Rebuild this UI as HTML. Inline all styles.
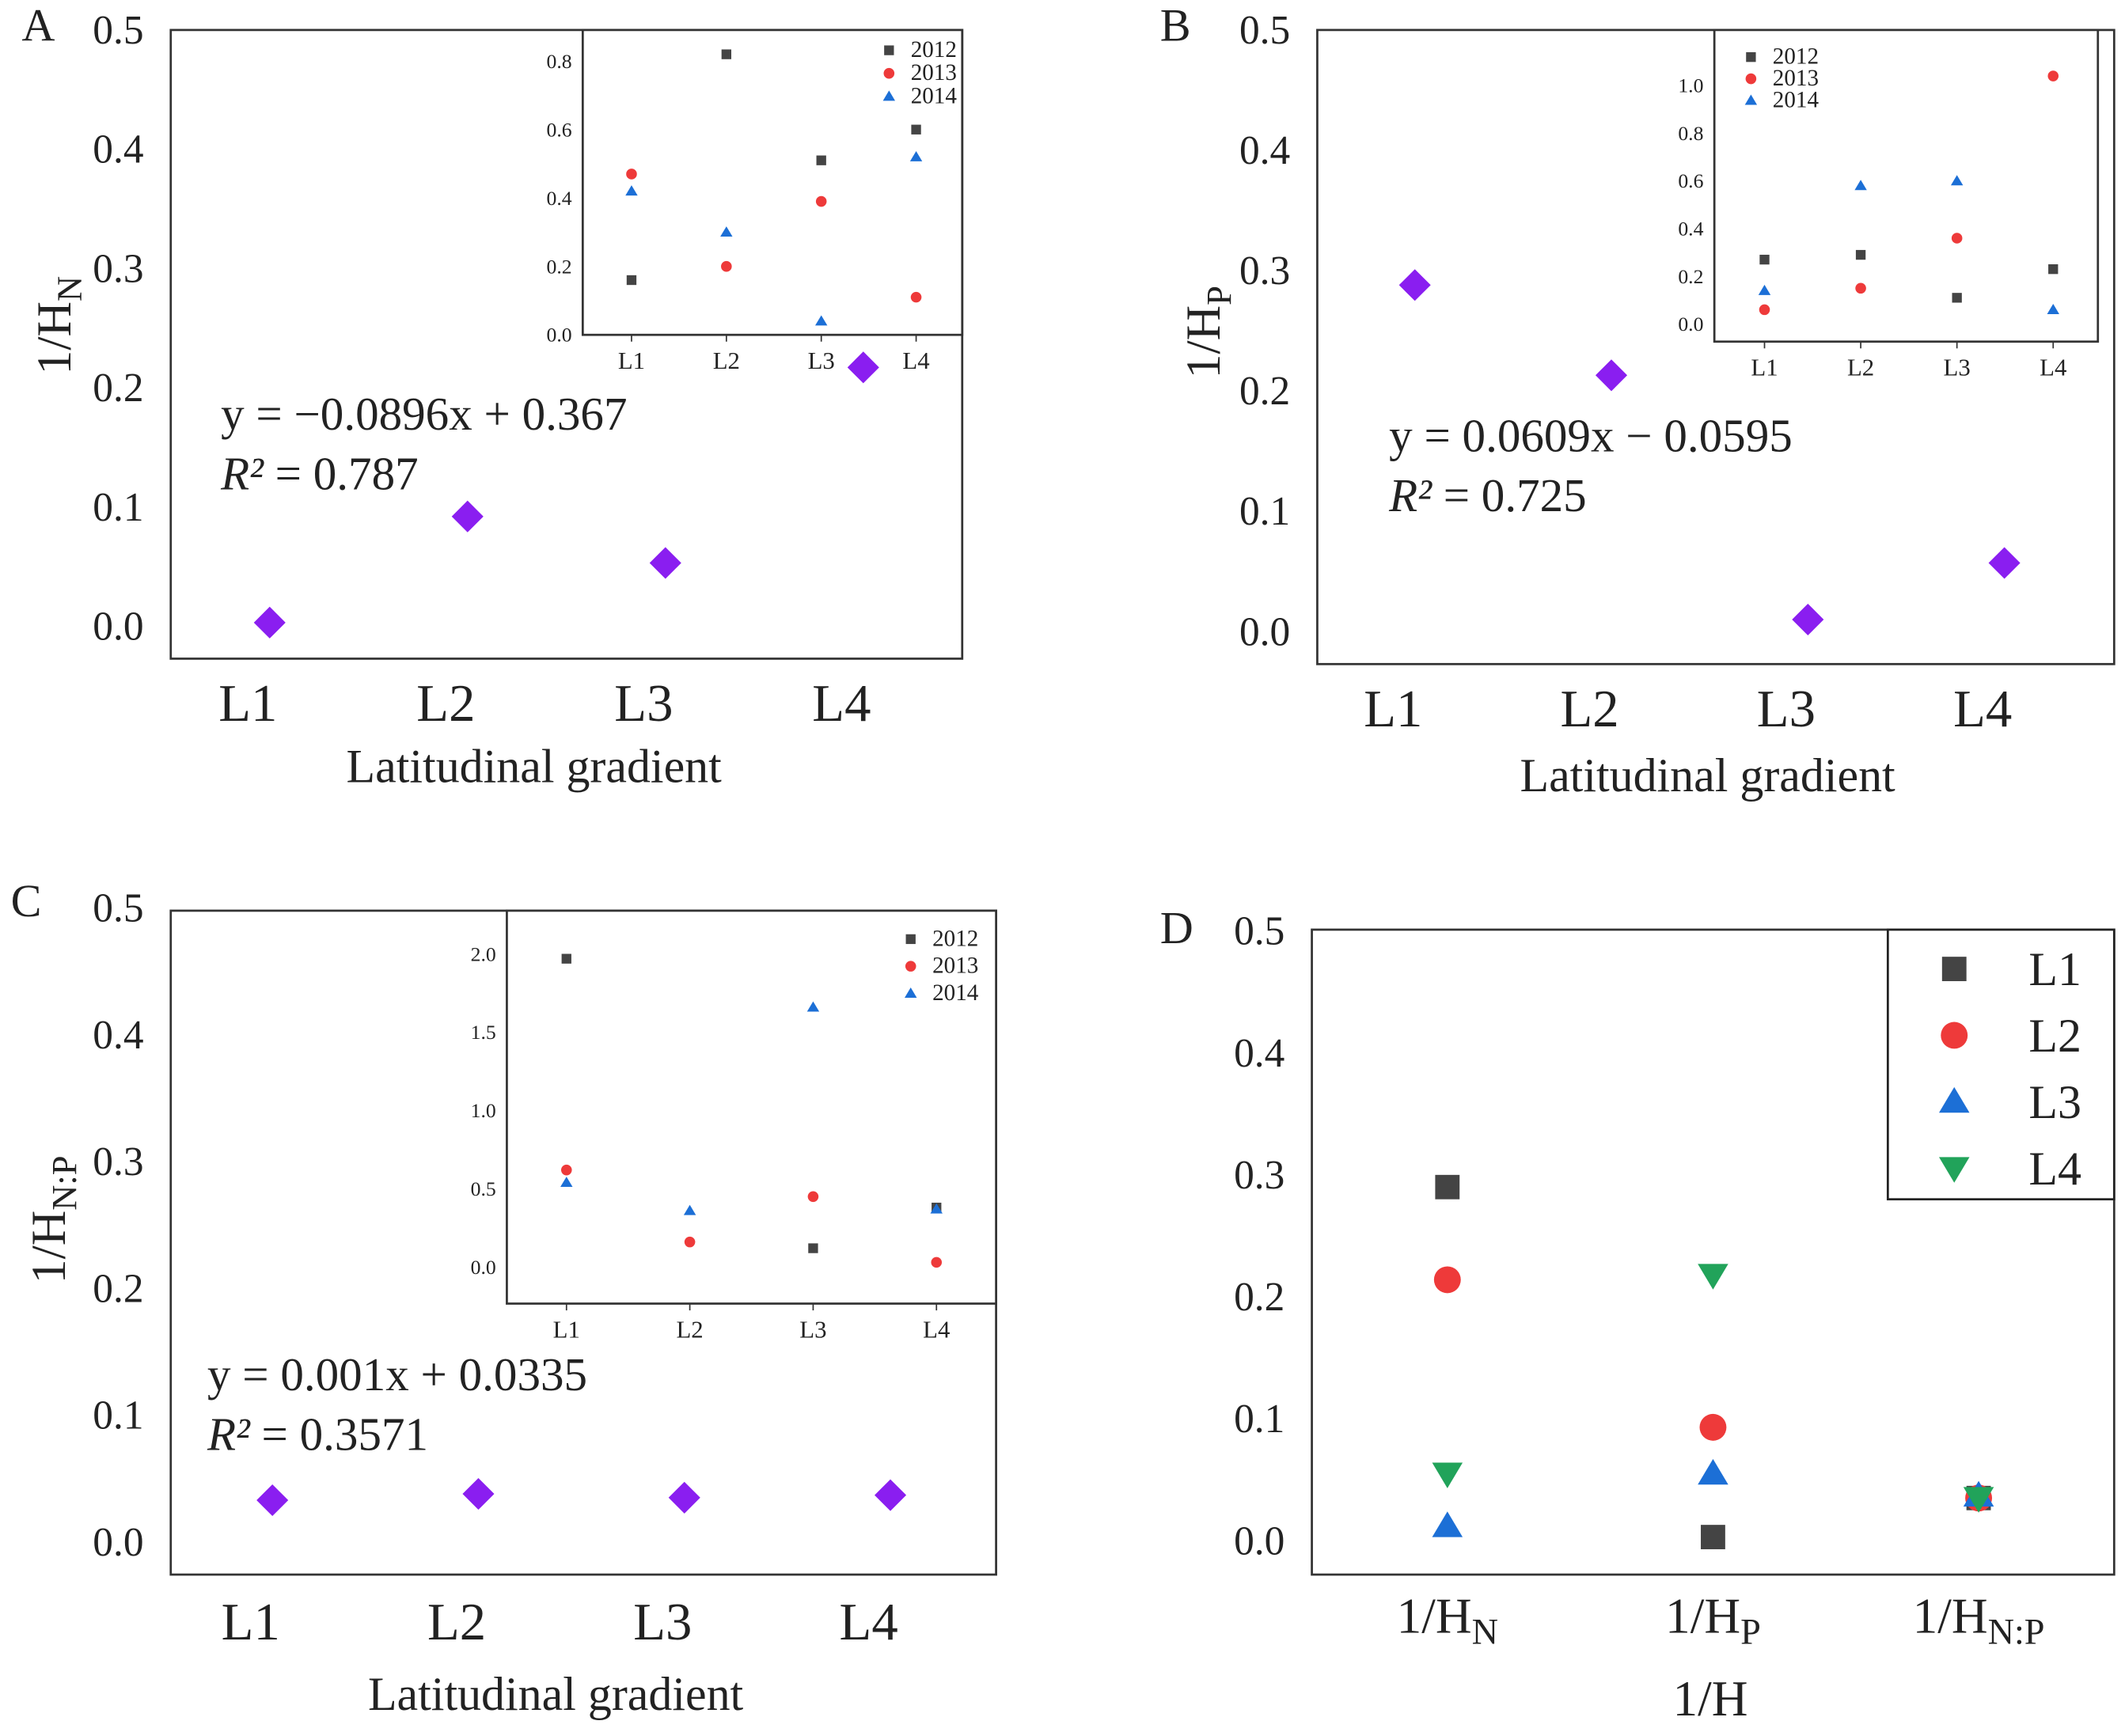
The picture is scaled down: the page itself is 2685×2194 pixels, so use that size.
<!DOCTYPE html>
<html><head><meta charset="utf-8"><style>
html,body{margin:0;padding:0;background:#fff}
svg{display:block}
text{font-family:"Liberation Serif",serif;fill:#222}
</style></head><body>
<svg id="fig" width="2685" height="2194" viewBox="0 0 1568 1281" xmlns="http://www.w3.org/2000/svg"></svg>
<script>
// ---- data ----
const cats = ["L1","L2","L3","L4"];
const yTicks = [0,0.1,0.2,0.3,0.4,0.5];
const years = ["2012","2013","2014"];
const mainA = [0.003,0.092,0.053,0.217];
const mainB = [0.288,0.213,0.010,0.057];
const mainC = [0.033,0.038,0.035,0.037];
const insetA2012 = [0.16,0.82,0.51,0.60];
const insetA2013 = [0.47,0.20,0.39,0.11];
const insetA2014 = [0.42,0.30,0.04,0.52];
const insetATicks = [0,0.2,0.4,0.6,0.8];
const insetB2012 = [0.27,0.29,0.11,0.23];
const insetB2013 = [0.06,0.15,0.36,1.04];
const insetB2014 = [0.14,0.58,0.60,0.06];
const insetBTicks = [0,0.2,0.4,0.6,0.8,1.0];
const insetC2012 = [1.97,null,0.12,0.38];
const insetC2013 = [0.62,0.16,0.45,0.03];
const insetC2014 = [0.54,0.36,1.66,0.37];
const insetCTicks = [0,0.5,1.0,1.5,2.0];
const dCats = ["N","P","N:P"];
const dL1 = [0.290,0.003,0.035];
const dL2 = [0.214,0.093,0.035];
const dL3 = [0.012,0.055,0.037];
const dL4 = [0.055,0.218,0.035];
const dLegend = ["L1","L2","L3","L4"];

const svg = document.getElementById('fig');
const NS = "http://www.w3.org/2000/svg";
function el(tag, attrs, parent){
  const e = document.createElementNS(NS, tag);
  for (const k in attrs) e.setAttribute(k, attrs[k]);
  (parent||svg).appendChild(e);
  return e;
}
function txt(s, x, y, size, anchor, parent){
  const t = el('text',{x:x,y:y,'font-size':size,'text-anchor':anchor||'start'},parent);
  t.textContent = s;
  return t;
}
const COL = {sq:'#444', ci:'#ee3a3a', tr:'#1c6fd6', tv:'#21a35a', dia:'#8a1ef0'};
function marker(kind, x, y, s, color){
  let m;
  if (kind==='sq') m = el('rect',{x:x-s,y:y-s,width:2*s,height:2*s,fill:color});
  else if (kind==='ci') m = el('circle',{cx:x,cy:y,r:s*1.1,fill:color});
  else if (kind==='tr') m = el('polygon',{points:`${x},${y-s*1.2} ${x-s*1.25},${y+s*0.9} ${x+s*1.25},${y+s*0.9}`,fill:color});
  else if (kind==='tv') m = el('polygon',{points:`${x},${y+s*1.2} ${x-s*1.25},${y-s*0.9} ${x+s*1.25},${y-s*0.9}`,fill:color});
  else m = el('polygon',{points:`${x},${y-s*1.3} ${x+s*1.3},${y} ${x},${y+s*1.3} ${x-s*1.3},${y}`,fill:color});
  return m;
}

function panel(o){
  const sy = v => o.y0 + (v-0)/(0.5)*(o.y5-o.y0);
  const sx = i => o.xs[0] + i*(o.xs[1]-o.xs[0]);
  const box = el('rect',{x:o.bx,y:o.by,width:o.bw,height:o.bh,fill:'none',stroke:'#333','stroke-width':1.6});
  
  
  yTicks.forEach(v=>{
    const t = txt(v.toFixed(1), o.bx-20, sy(v)+10, 30, 'end');
    
    
  });
  return {sy, sx};
}

function inset(o, ticks, tmax, s12, s13, s14, name){
  const sy = v => o.y0 - v/tmax*(o.y0-o.ytop);
  const sx = i => o.xs[0] + i*(o.xs[1]-o.xs[0]);
  const r = el('rect',{x:o.bx,y:o.by,width:o.bw,height:o.bh,fill:'#fff',stroke:'#333','stroke-width':1.6});
  
  
  ticks.forEach(v=>{
    const t = txt(v.toFixed(1), o.bx-8, sy(v)+5, 15, 'end');
    
    
  });
  cats.forEach((c,i)=>{
    el('line',{x1:sx(i),x2:sx(i),y1:o.by+o.bh,y2:o.by+o.bh+5,stroke:'#333'});
    const t = txt(c, sx(i), o.by+o.bh+25, 18, 'middle');
    
    
  });
  [[s12,'sq',COL.sq],[s13,'ci',COL.ci],[s14,'tr',COL.tr]].forEach(([arr,k,c],j)=>{
    arr.forEach((v,i)=>{
      if (v===null) return;
      const m = marker(k, sx(i), sy(v), 3.6, c);
      
      
    });
  });
  years.forEach((y,j)=>{
    const m = marker(['sq','ci','tr'][j], o.lx, o.ly+j*o.ld-5, 3.6, [COL.sq,COL.ci,COL.tr][j]);
    
    
    const t = txt(y, o.lx+16, o.ly+j*o.ld, 17, 'start');
    
    
  });
}

function mainPoints(sx, sy, arr, name){
  arr.forEach((v,i)=>{
    const m = marker('dia', sx(i), sy(v), 9, COL.dia);
    
    
  });
}
function xcats(sx, y, name, shift){
  cats.forEach((c,i)=>{
    const t = txt(c, sx(i)+shift, y, 39, 'middle');
    
    
  });
}
function eqn(x,y,s1,r2,name){
  const t = txt(s1, x, y, 34.5, 'start');
  
  
  const t2 = el('text',{x:x,y:y+44,'font-size':34.5});
  t2.innerHTML = '<tspan font-style="italic">R²</tspan> = '+r2;
  
  
}
function ylab(x,y,main,sub,name){
  const t = el('text',{x:0,y:0,'font-size':36,transform:`translate(${x},${y}) rotate(-90)`,'text-anchor':'middle'});
  t.innerHTML = main+'<tspan font-size="26" dy="8">'+sub+'</tspan>';
  
  
}
function plabel(s,x,y){
  const t = txt(s,x,y,34,'start');
  
  
}
function xtitle(s,x,y,name){
  const t=txt(s,x,y,35,'middle');
  
  
}

// ---- Panel A ----
plabel('A',16,30);
let A = panel({name:'panel-a',bx:126,by:22,bw:584,bh:464,y0:462,y5:22,xs:[199,345]});
inset({bx:430,by:22,bw:280,bh:225,y0:247,ytop:45,xs:[466,536],lx:656,ly:42,ld:17},insetATicks,0.8,insetA2012,insetA2013,insetA2014,'panel-a');
mainPoints(A.sx,A.sy,mainA,'panel-a');
xcats(A.sx,532,'panel-a',-16);
eqn(163,317,'y = −0.0896x + 0.367','0.787','panel-a');
ylab(52,240,'1/H','N','panel-a');
xtitle('Latitudinal gradient',394,577,'panel-a');

// ---- Panel B ----
plabel('B',856,30);
let B = panel({name:'panel-b',bx:972,by:22,bw:588,bh:468,y0:466,y5:22,xs:[1044,1189]});
inset({bx:1265,by:22,bw:283,bh:230,y0:239,ytop:63,xs:[1302,1373],lx:1292,ly:47,ld:16},insetBTicks,1.0,insetB2012,insetB2013,insetB2014,'panel-b');
mainPoints(B.sx,B.sy,mainB,'panel-b');
xcats(B.sx,536,'panel-b',-16);
eqn(1025,333,'y = 0.0609x − 0.0595','0.725','panel-b');
ylab(900,245,'1/H','P','panel-b');
xtitle('Latitudinal gradient',1260,584,'panel-b');

// ---- Panel C ----
plabel('C',8,676);
let C = panel({name:'panel-c',bx:126,by:672,bw:609,bh:490,y0:1138,y5:670,xs:[201,353]});
inset({bx:374,by:672,bw:361,bh:290,y0:935,ytop:704,xs:[418,509],lx:672,ly:698,ld:20},insetCTicks,2.0,insetC2012,insetC2013,insetC2014,'panel-c');
mainPoints(C.sx,C.sy,mainC,'panel-c');
xcats(C.sx,1210,'panel-c',-16);
eqn(153,1026,'y = 0.001x + 0.0335','0.3571','panel-c');
ylab(48,900,'1/H','N:P','panel-c');
xtitle('Latitudinal gradient',410,1262,'panel-c');

// ---- Panel D ----
plabel('D',856,696);
let D = panel({name:'panel-d',bx:968,by:686,bw:592,bh:476,y0:1137,y5:687,xs:[1068,1264]});
const dSeries=[[dL1,'sq',COL.sq],[dL2,'ci',COL.ci],[dL3,'tr',COL.tr],[dL4,'tv',COL.tv]];
dSeries.forEach(([arr,k,c],j)=>{
  arr.forEach((v,i)=>{
    const m = marker(k, D.sx(i), D.sy(v), 9, c);
    
    
  });
});
dCats.forEach((c,i)=>{
  const t = el('text',{x:D.sx(i),y:1205,'font-size':37,'text-anchor':'middle'});
  t.innerHTML='1/H<tspan font-size="27" dy="8">'+c+'</tspan>';
  
  
});
{const t=txt('1/H',1262,1266,37,'middle');}
{const lb=el('rect',{x:1393,y:686,width:167,height:199,fill:'#fff',stroke:'#222','stroke-width':1.6});
}
dSeries.forEach(([arr,k,c],j)=>{
  const y=715+j*49;
  const m=marker(k,1442,y,9,c);
  
  
  const t=txt(dLegend[j],1497,y+12,35,'start');
  
  
});
</script>
</body></html>
